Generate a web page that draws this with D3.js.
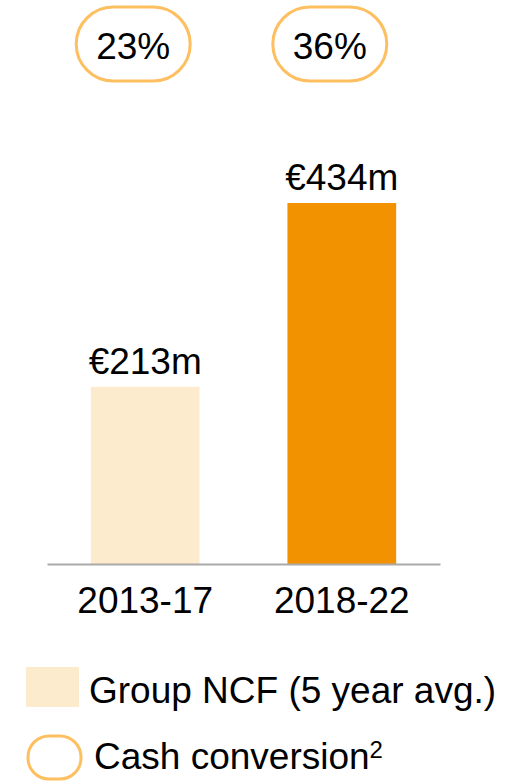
<!DOCTYPE html>
<html>
<head>
<meta charset="utf-8">
<script src="https://cdn.jsdelivr.net/npm/d3@7"></script>
<style>
  body { margin: 0; background: #fff; }
  text { font-family: "Liberation Sans", Arial, sans-serif; fill: #000; }
</style>
</head>
<body>
<div id="chart"></div>
<script>
// data
var periods = ["2013-17", "2018-22"];
var ncfValues = [213, 434];
var ncfLabels = ["€213m", "€434m"];
var conversionLabels = ["23%", "36%"];
var legendLabels = ["Group NCF (5 year avg.)", "Cash conversion"];

var colors = ["#fdebcd", "#f39200"];
var pillColor = "#fdbf5f";

var width = 512, height = 781;
var baseline = 564, topY = 203;

var svg = d3
  .select("#chart")
  .append("svg")
  .attr("width", width)
  .attr("height", height);

// scales
var x = d3.scaleBand()
  .domain(periods)
  .range([47, 440])
  .paddingInner(0.447)
  .paddingOuter(0.223);

var y = d3.scaleLinear()
  .domain([0, d3.max(ncfValues)])
  .range([baseline, topY]);

// cash conversion pills
var pills = svg.append("g")
  .selectAll("g")
  .data(periods)
  .enter()
  .append("g")
  .attr("transform", function (d) {
    return "translate(" + (x(d) + x.bandwidth() / 2 - 12) + ",44)";
  });

pills.append("rect")
  .attr("x", -57)
  .attr("y", -37)
  .attr("width", 114)
  .attr("height", 74)
  .attr("rx", 37)
  .attr("fill", "none")
  .attr("stroke", pillColor)
  .attr("stroke-width", 3);

pills.append("text")
  .attr("text-anchor", "middle")
  .attr("y", 15)
  .style("font-size", "37px")
  .text(function (d, i) { return conversionLabels[i]; });

// bars
svg.append("g")
  .selectAll("rect")
  .data(periods)
  .enter()
  .append("rect")
  .attr("x", function (d) { return x(d); })
  .attr("y", function (d, i) { return y(ncfValues[i]); })
  .attr("width", x.bandwidth())
  .attr("height", function (d, i) { return baseline - y(ncfValues[i]); })
  .attr("fill", function (d, i) { return colors[i]; });

// value labels
svg.append("g")
  .selectAll("text")
  .data(periods)
  .enter()
  .append("text")
  .attr("text-anchor", "middle")
  .attr("x", function (d) { return x(d) + x.bandwidth() / 2; })
  .attr("y", function (d, i) { return y(ncfValues[i]) - 13; })
  .style("font-size", "37px")
  .text(function (d, i) { return ncfLabels[i]; });

// x axis
var xAxis = svg.append("g")
  .attr("transform", "translate(0," + baseline + ")")
  .call(d3.axisBottom(x).tickSize(0).tickPadding(0));
xAxis.select(".domain").attr("stroke", "#aaaaaa").attr("stroke-width", 2);
xAxis.selectAll(".tick text")
  .attr("dy", 0)
  .attr("y", 49)
  .style("font-size", "37px")
  .style("font-family", "'Liberation Sans', Arial, sans-serif")
  .attr("fill", "#000");

// legend
svg.append("rect")
  .attr("x", 26)
  .attr("y", 667)
  .attr("width", 53)
  .attr("height", 40)
  .attr("fill", colors[0]);
svg.append("text")
  .attr("x", 89)
  .attr("y", 703)
  .style("font-size", "37px")
  .text(legendLabels[0]);

svg.append("rect")
  .attr("x", 28)
  .attr("y", 736)
  .attr("width", 53)
  .attr("height", 43)
  .attr("rx", 21)
  .attr("fill", "none")
  .attr("stroke", pillColor)
  .attr("stroke-width", 3);
var t2 = svg.append("text")
  .attr("x", 94)
  .attr("y", 769)
  .style("font-size", "37px")
  .text(legendLabels[1]);
t2.append("tspan")
  .attr("dy", -11)
  .style("font-size", "24px")
  .text("2");
</script>
</body>
</html>
